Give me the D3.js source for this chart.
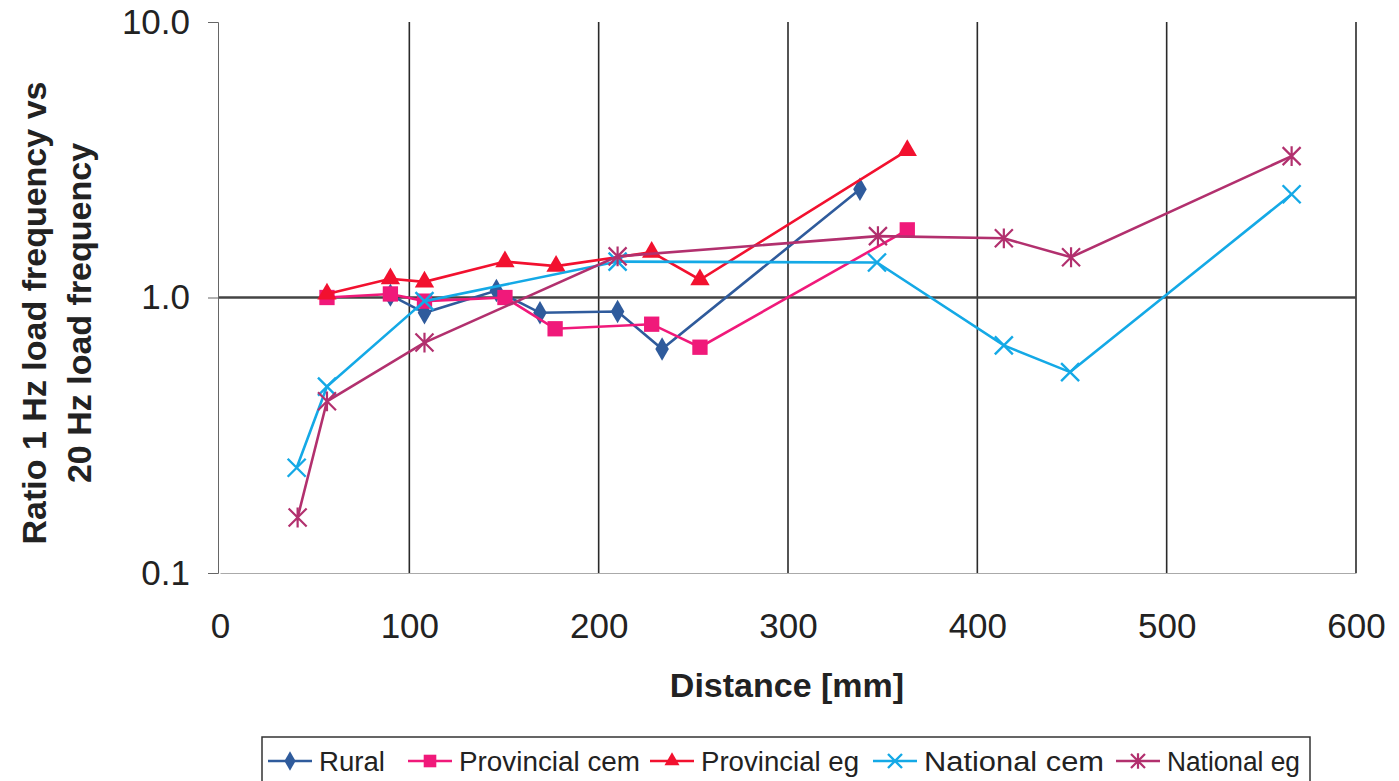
<!DOCTYPE html>
<html>
<head>
<meta charset="utf-8">
<script src="https://cdn.jsdelivr.net/npm/d3@7"></script>
<style>
  body { margin: 0; background: #fff; }
  text { font-family: "Liberation Sans", Arial, sans-serif; fill: #222; }
</style>
</head>
<body>
<div id="chart"></div>
<script>
// data
const rural = [[90,1.02],[108,0.88],[146,1.06],[169,0.88],[210,0.89],[233.5,0.65],[338,2.47]];
const provCem = [[56.5,1.0],[90,1.03],[108,0.97],[150.5,1.0],[177,0.77],[228,0.80],[253.5,0.66],[363,1.76]];
const provEg = [[56.5,1.03],[90,1.17],[108,1.14],[150.5,1.35],[177.5,1.30],[228,1.46],[253.5,1.16],[363,3.42]];
const natCem = [[40.5,0.241],[56.5,0.475],[108,0.97],[210,1.35],[347,1.34],[414,0.67],[449,0.536],[566,2.37]];
const natEg = [[41,0.159],[56.5,0.42],[108,0.686],[210,1.41],[347.5,1.67],[414,1.64],[449.5,1.40],[566,3.26]];

const seriesNames = ["Rural","Provincial cem","Provincial eg","National cem","National eg"];
const seriesData = [rural, provCem, provEg, natCem, natEg];
const colors = ["#2f5b9c","#f0197a","#f2112f","#14a9e6","#b2306e"];
const symbols = ["diamond","square","triangle","x","star"];

const xTicks = [0,100,200,300,400,500,600];
const yTicks = [0.1,1,10];

const width = 1399, height = 781;
const margin = {top:22, right:43, bottom:208, left:218};

const svg = d3.select("#chart").append("svg")
  .attr("width", width).attr("height", height);

const x = d3.scaleLinear().domain([0,600]).range([margin.left+2, width-margin.right]);
const y = d3.scaleLog().domain([0.1,10]).range([height-margin.bottom, margin.top]);

// vertical grid
svg.append("g")
  .selectAll("line")
  .data(xTicks.slice(1))
  .enter().append("line")
  .attr("x1", d => x(d)).attr("x2", d => x(d))
  .attr("y1", y(10)).attr("y2", y(0.1))
  .attr("stroke", "#2a2a2a").attr("stroke-width", 1.6);

// horizontal major grid at 1.0
svg.append("line")
  .attr("x1", margin.left).attr("x2", x(600))
  .attr("y1", y(1)).attr("y2", y(1))
  .attr("stroke", "#444").attr("stroke-width", 2.6);

// axes
const xAxis = d3.axisBottom(x).tickValues(xTicks).tickSize(0).tickPadding(40);
svg.append("g")
  .attr("transform", `translate(0,${y(0.1)})`)
  .call(xAxis)
  .call(g => g.select(".domain").attr("stroke", "#aaa").attr("stroke-width", 1.2))
  .call(g => g.selectAll("text").attr("font-size", 35).attr("fill", "#222")
    .style("font-family", "'Liberation Sans', Arial, sans-serif"));

const yAxis = d3.axisLeft(y).tickValues(yTicks).tickFormat(d3.format(".1f")).tickSize(10).tickPadding(18);
svg.append("g")
  .attr("transform", `translate(${margin.left},0)`)
  .call(yAxis)
  .call(g => g.select(".domain").attr("stroke", "#666").attr("stroke-width", 1))
  .call(g => g.selectAll(".tick line").attr("stroke", "#666"))
  .call(g => g.selectAll("text").attr("font-size", 35).attr("fill", "#222")
    .style("font-family", "'Liberation Sans', Arial, sans-serif"));

// axis titles
svg.append("text")
  .attr("x", 787).attr("y", 697)
  .attr("text-anchor", "middle")
  .attr("font-size", 34).attr("font-weight", "bold").attr("fill", "#333")
  .text("Distance [mm]");

const yt = svg.append("text")
  .attr("transform", "translate(0,313) rotate(-90)")
  .attr("text-anchor", "middle")
  .attr("font-size", 34).attr("font-weight", "bold").attr("fill", "#333");
yt.append("tspan").attr("x", 0).attr("y", 46).text("Ratio 1 Hz load frequency vs");
yt.append("tspan").attr("x", 0).attr("y", 91).text("20 Hz load frequency");

// marker drawing
function marker(g, type, color, cx, cy, s) {
  if (type === "diamond") {
    g.append("path").attr("d", d3.symbol(d3.symbolDiamond, s*s*0.55)())
      .attr("transform", `translate(${cx},${cy})`).attr("fill", color);
  } else if (type === "square") {
    g.append("rect").attr("x", cx-s*0.45).attr("y", cy-s*0.45)
      .attr("width", s*0.9).attr("height", s*0.9).attr("fill", color);
  } else if (type === "triangle") {
    g.append("path").attr("d", d3.symbol(d3.symbolTriangle, s*s*0.5)())
      .attr("transform", `translate(${cx},${cy})`).attr("fill", color);
  } else if (type === "x") {
    const r = s*0.5;
    g.append("path").attr("d", `M${cx-r},${cy-r}L${cx+r},${cy+r}M${cx-r},${cy+r}L${cx+r},${cy-r}`)
      .attr("stroke", color).attr("stroke-width", 2.4).attr("fill", "none");
  } else if (type === "star") {
    const r = s*0.5;
    g.append("path").attr("d", `M${cx-r},${cy-r}L${cx+r},${cy+r}M${cx-r},${cy+r}L${cx+r},${cy-r}M${cx},${cy-r*1.1}L${cx},${cy+r*1.1}`)
      .attr("stroke", color).attr("stroke-width", 2.2).attr("fill", "none");
  }
}

const line = d3.line().x(d => x(d[0])).y(d => y(d[1]));
const sizes = [17, 17, 18, 18, 18];

seriesData.forEach((data, i) => {
  const g = svg.append("g");
  g.append("path").datum(data)
    .attr("d", line)
    .attr("fill", "none")
    .attr("stroke", colors[i])
    .attr("stroke-width", 2.6);
  data.forEach(d => marker(g, symbols[i], colors[i], x(d[0]), y(d[1]), sizes[i]));
});

// legend
const lg = svg.append("g");
lg.append("rect")
  .attr("x", 262).attr("y", 737).attr("width", 1048).attr("height", 60)
  .attr("fill", "#fff").attr("stroke", "#333").attr("stroke-width", 1.5);

const legendX = [268, 408, 650, 873, 1116];
seriesNames.forEach((name, i) => {
  const cx = legendX[i];
  const cy = 761;
  lg.append("line").attr("x1", cx).attr("x2", cx+44).attr("y1", cy).attr("y2", cy)
    .attr("stroke", colors[i]).attr("stroke-width", 2.6);
  marker(lg, symbols[i], colors[i], cx+22, cy, 14);
  lg.append("text").attr("x", cx+51).attr("y", cy+10)
    .attr("font-size", 27).attr("fill", "#222")
    .attr("textLength", [66, 181, 158, 180, 133][i])
    .attr("lengthAdjust", "spacingAndGlyphs")
    .text(name);
});
</script>
</body>
</html>
